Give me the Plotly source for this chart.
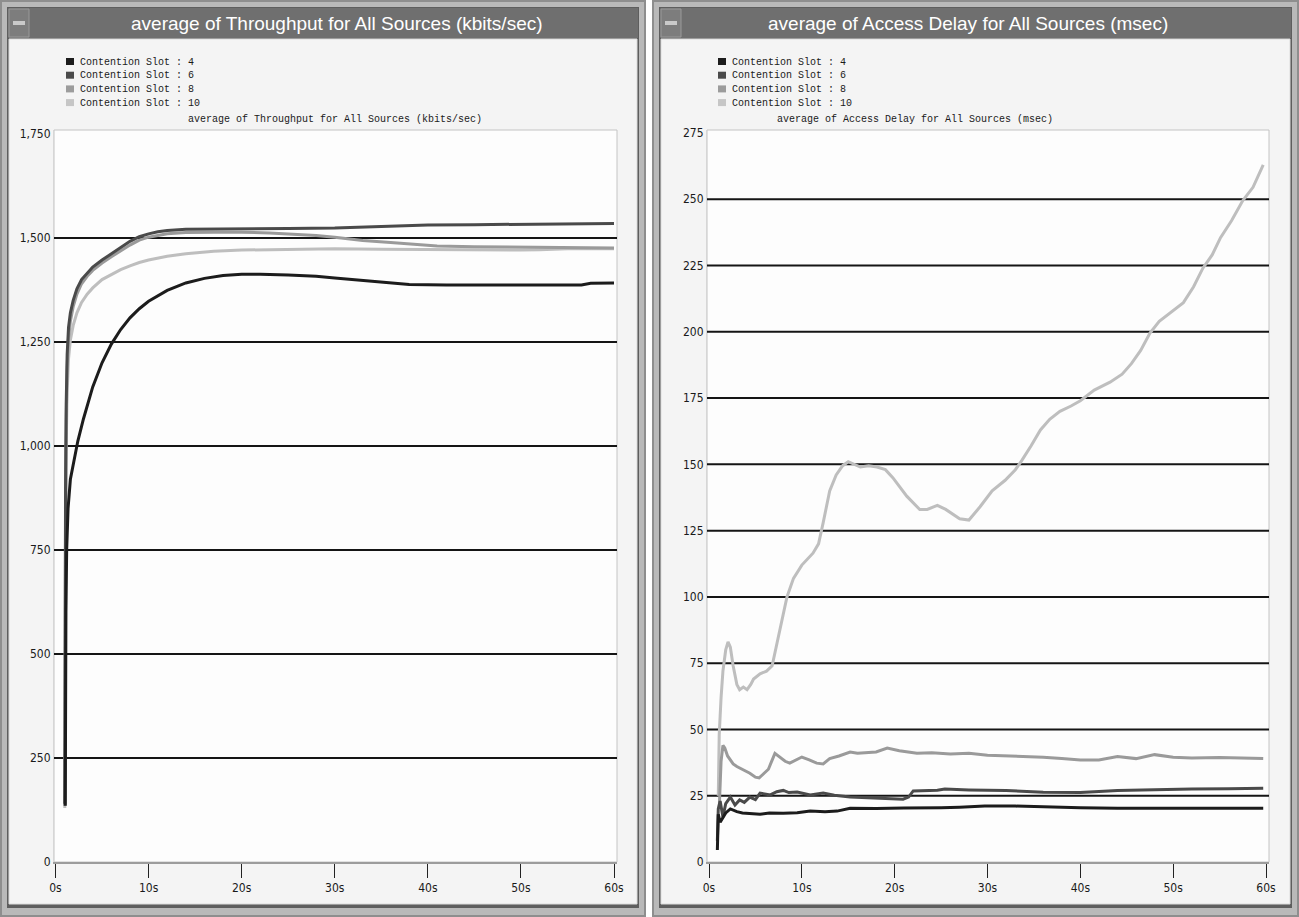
import plotly.graph_objects as go

W, H = 1299, 917

# ---- data -------------------------------------------------------------
SERIES_NAMES = ["Contention Slot : 4", "Contention Slot : 6",
                "Contention Slot : 8", "Contention Slot : 10"]
SERIES_COLORS = ["#1c1c1c", "#4a4a4a", "#9a9a9a", "#bebebe"]
LEGEND_COLORS = ["#1c1c1c", "#4a4a4a", "#9c9c9c", "#c6c6c6"]

# Throughput (kbits/sec) vs time (s)
THR_T4 = [1.05, 1.08, 1.12, 1.2, 1.35, 1.6, 2.0, 2.4, 3.0, 3.5, 4.0, 5.0, 6.0, 7.0,
          8.0, 9.0, 10, 12, 14, 16, 18, 20, 22, 25, 28, 30, 33, 36, 38, 42, 46, 50,
          54, 56.5, 57.5, 60]
THR_V4 = [135, 400, 600, 750, 850, 920, 965, 1012, 1065, 1105, 1142, 1200, 1245, 1280,
          1308, 1330, 1348, 1374, 1392, 1403, 1410, 1413, 1413, 1411, 1408, 1404, 1398,
          1392, 1388, 1387, 1387, 1387, 1387, 1387, 1391, 1392]

THR_T6 = [1.0, 1.03, 1.08, 1.15, 1.25, 1.4, 1.6, 1.9, 2.3, 2.8, 3.4, 4.0, 5.0, 6.0,
          7.0, 8.0, 9.0, 10, 11, 12, 14, 17, 20, 25, 30, 35, 40, 45, 50, 55, 60]
THR_V6 = [140, 600, 900, 1100, 1220, 1285, 1320, 1350, 1378, 1400, 1416, 1430, 1447,
          1462, 1478, 1492, 1503, 1510, 1515, 1518, 1521, 1522, 1522, 1523, 1524, 1528,
          1531, 1532, 1533, 1535, 1535]

THR_T8 = [1.0, 1.03, 1.08, 1.15, 1.25, 1.4, 1.6, 1.9, 2.3, 2.8, 3.4, 4.0, 5.0, 6.0,
          7.0, 8.0, 9.0, 10, 12, 14, 17, 20, 23, 26, 28, 30, 33, 36, 38, 41, 45, 50,
          55, 60]
THR_V8 = [135, 550, 850, 1060, 1190, 1260, 1300, 1335, 1365, 1390, 1408, 1422, 1440,
          1455, 1470, 1483, 1495, 1502, 1510, 1513, 1514, 1514, 1512, 1509, 1506, 1502,
          1494, 1489, 1486, 1481, 1479, 1478, 1477, 1476]

THR_T10 = [1.0, 1.03, 1.08, 1.15, 1.25, 1.4, 1.6, 1.9, 2.3, 2.8, 3.4, 4.0, 5.0, 6.0,
           7.0, 8.0, 9.0, 10, 12, 14, 17, 20, 25, 30, 35, 40, 45, 50, 52, 55, 60]
THR_V10 = [130, 500, 800, 1000, 1130, 1210, 1255, 1290, 1320, 1345, 1365, 1380, 1400,
           1413, 1424, 1433, 1441, 1447, 1456, 1462, 1468, 1471, 1473, 1474, 1473, 1472,
           1471, 1471, 1472, 1474, 1474]

# Access delay (msec) vs time (s)
DLY_T4 = [0.9, 0.95, 1.0, 1.2, 1.5, 1.8, 2.3, 3.0, 3.6, 4.4, 5.5, 6.5, 8.0, 9.5, 10.9,
          12.5, 13.8, 15.2, 18, 21, 24, 25, 27, 29.7, 33, 36.7, 40, 44, 48, 50, 53, 56,
          59.7]
DLY_V4 = [4.5, 12, 18, 15, 17, 18.5, 20, 19, 18.5, 18.4, 18, 18.5, 18.4, 18.6, 19.2,
          19.0, 19.2, 20.3, 20.2, 20.4, 20.3, 20.5, 20.7, 21.1, 21.1, 20.7, 20.5, 20.3,
          20.3, 20.2, 20.3, 20.2, 20.3]

DLY_T6 = [0.9, 1.0, 1.2, 1.5, 1.8, 2.3, 2.8, 3.3, 3.8, 4.4, 5.0, 5.5, 6.6, 7.3, 8.0,
          8.6, 9.5, 10.9, 12.3, 13.5, 15.2, 17, 18.8, 20.9, 21.5, 22, 24.6, 25.4, 28,
          32, 36, 40, 44, 48, 52, 56, 59.7]
DLY_V6 = [8, 20, 23, 17, 22, 24.5, 21.5, 23.4, 22.5, 24.5, 23.5, 26, 25.3, 26.5, 27,
          26.2, 26.4, 25.3, 26, 25.2, 24.5, 24.3, 24.1, 23.7, 24.5, 26.8, 27.1, 27.5,
          27.2, 27, 26.3, 26.2, 27, 27.3, 27.5, 27.6, 27.8]

DLY_T8 = [1.1, 1.3, 1.5, 1.7, 2.0, 2.3, 2.6, 3.0, 3.6, 4.4, 5.0, 5.4, 5.8, 6.4, 7.1,
          7.6, 8.2, 8.7, 9.3, 10.0, 10.8, 11.6, 12.3, 13, 14, 15.2, 16, 17, 18, 19.2,
          20.5, 22.4, 24, 26, 28, 30, 33, 36, 38, 40, 42, 44, 46, 48, 50, 52, 55, 58,
          59.7]
DLY_V8 = [20, 38, 44, 43, 40, 38.5, 37, 36, 35, 33.5, 32, 31.7, 33, 35, 41, 39.5, 38,
          37.3, 38.5, 39.6, 38.5, 37.3, 37, 39, 40, 41.5, 41, 41.2, 41.5, 43, 42, 41,
          41.2, 40.7, 41, 40.3, 40, 39.5, 39, 38.5, 38.5, 39.8, 39, 40.5, 39.5, 39.2,
          39.4, 39, 39]

DLY_T10 = [1.0, 1.1, 1.3, 1.5, 1.8, 2.05, 2.3, 2.6, 3.0, 3.3, 3.7, 4.1, 4.5, 4.8, 5.5,
           6.2, 6.8, 7.3, 7.8, 8.4, 9.1, 10.0, 11.2, 11.8, 12.3, 13.0, 13.7, 14.4, 15.0,
           16.3, 17.2, 18.1, 19.0, 19.8, 21.3, 22.7, 23.5, 24.6, 25.5, 27.0, 28.0, 29.2,
           30.5, 31.9, 33.0, 33.7, 34.7, 35.7, 36.7, 37.8, 39.0, 40.0, 41.5, 43.2, 44.5,
           45.5, 46.5, 47.5, 48.5, 50.0, 51.1, 52.2, 53.2, 54.2, 55.1, 56.3, 57.5, 58.6,
           59.7]
DLY_V10 = [25, 48, 62, 72, 80, 83, 81, 74, 67, 65, 66, 65, 67, 69, 71, 72, 74, 82, 90,
           100, 107, 112, 116.5, 120, 128, 140, 146, 149.5, 151, 149, 149.5, 149, 148,
           145, 138, 133, 133, 134.5, 133, 129.5, 129, 134, 140, 144, 148, 151.5, 157,
           163, 167, 170, 172, 174, 178, 181, 184, 188, 193, 199.5, 204, 208, 211, 217,
           224, 229, 235.5, 242, 249.5, 254.5, 263]

X_TICKS = [0, 10, 20, 30, 40, 50, 60]
X_TICK_TEXT = ["0s", "10s", "20s", "30s", "40s", "50s", "60s"]
THR_TICKS = [0, 250, 500, 750, 1000, 1250, 1500, 1750]
DLY_TICKS = [0, 25, 50, 75, 100, 125, 150, 175, 200, 225, 250, 275]

THR_TITLE = "average of Throughput for All Sources (kbits/sec)"
DLY_TITLE = "average of Access Delay for All Sources (msec)"

# ---- layout helpers (pixel -> paper) ---------------------------------
def fx(x):
    return x / W


def fy(y):
    return 1 - y / H


def rect(x0, y0, x1, y1, fill, line=None, lw=0):
    return dict(type="rect", xref="paper", yref="paper", layer="below",
                x0=fx(x0), x1=fx(x1), y0=fy(y1), y1=fy(y0),
                fillcolor=fill, line=dict(color=line or fill, width=lw))


TICK_FONT = dict(family="Liberation Sans Narrow, DejaVu Sans Condensed, Liberation Sans, sans-serif",
                 size=12, color="#1a1a1a")
MONO = "Liberation Mono, DejaVu Sans Mono, monospace"

panels = [
    dict(win=(0, 646), box=(54, 130, 617, 862), x0px=55.5, x60px=614,
         ticks=THR_TICKS, title=THR_TITLE, title_x=337, sub_x=335,
         series=[(THR_T4, THR_V4), (THR_T6, THR_V6), (THR_T8, THR_V8), (THR_T10, THR_V10)],
         fmt=",d", top_px=134),
    dict(win=(652, 1299), box=(707, 130, 1269, 862), x0px=709, x60px=1266,
         ticks=DLY_TICKS, title=DLY_TITLE, title_x=968, sub_x=915,
         series=[(DLY_T4, DLY_V4), (DLY_T6, DLY_V6), (DLY_T8, DLY_V8), (DLY_T10, DLY_V10)],
         fmt="d", top_px=133),
]

fig = go.Figure()
shapes = []
annotations = []

for k, p in enumerate(panels):
    wl, wr = p["win"]
    L, T, R, B = p["box"]
    # window frame, body and title bar
    shapes.append(rect(wl, 0, wr, H, "#8e8e8e"))
    shapes.append(rect(wl + 2, 2, wr - 2, H - 2, "#b9b9b9"))
    shapes.append(rect(wl + 7, 7, wr - 7, H - 9, "#5e5e5e"))
    shapes.append(rect(wl + 9, 39, wr - 9, H - 13, "#f4f4f4", "#dcdcdc", 1))
    shapes.append(rect(wl + 8, 8, wr - 8, 38, "#6f6f6f"))
    shapes.append(rect(wl + 9, 9, wl + 29, 37, "#7d7d7d", "#9a9a9a", 1))
    shapes.append(rect(wl + 13, 21, wl + 25, 25, "#c9c9c9"))
    # plot area
    shapes.append(rect(L, T, R, B, "#fdfdfd", "#c4c4c4", 1))

    annotations.append(dict(text=p["title"], xref="paper", yref="paper",
                            x=fx(p["title_x"]), y=fy(23), showarrow=False,
                            xanchor="center", yanchor="middle",
                            font=dict(family="Liberation Sans, Arial, sans-serif",
                                      size=19, color="#ffffff")))
    annotations.append(dict(text=p["title"], xref="paper", yref="paper",
                            x=fx(p["sub_x"]), y=fy(120), showarrow=False,
                            xanchor="center", yanchor="middle",
                            font=dict(family=MONO, size=10, color="#1a1a1a")))

    # legend
    for i, name in enumerate(SERIES_NAMES):
        ry = 62 + i * 13.7
        shapes.append(rect(wl + 66, ry - 4, wl + 74, ry + 3, LEGEND_COLORS[i]))
        annotations.append(dict(text=name, xref="paper", yref="paper",
                                x=fx(wl + 78), y=fy(ry), showarrow=False,
                                xanchor="left", yanchor="middle",
                                font=dict(family=MONO, size=10, color="#1a1a1a")))

    xa = "x" if k == 0 else "x2"
    ya = "y" if k == 0 else "y2"
    pps = (p["x60px"] - p["x0px"]) / 60.0
    xr = [-(p["x0px"] - L) / pps, 60 + (R - p["x60px"]) / pps]
    top_val = p["ticks"][-1]
    yr = [0, top_val * (B - T) / (B - p["top_px"])]

    axis_x = dict(domain=[fx(L), fx(R)], range=xr, tickmode="array",
                  tickvals=X_TICKS, ticktext=X_TICK_TEXT, automargin=False,
                  ticks="outside", ticklen=14, tickwidth=1, tickcolor="#222",
                  showline=True, linecolor="#9c9c9c", linewidth=2, showgrid=False,
                  zeroline=False, tickfont=TICK_FONT, anchor=ya, fixedrange=True)
    axis_y = dict(domain=[fy(B), fy(T)], range=yr, tickmode="array",
                  tickvals=p["ticks"], tickformat=p["fmt"], ticks="", showline=True,
                  linecolor="#d6d6d6", linewidth=1, showgrid=False, zeroline=False,
                  automargin=False, tickfont=TICK_FONT, anchor=xa, fixedrange=True)
    if k == 0:
        fig.update_layout(xaxis=axis_x, yaxis=axis_y)
    else:
        fig.update_layout(xaxis2=axis_x, yaxis2=axis_y)

    # horizontal grid lines at inner ticks
    for v in p["ticks"][1:-1]:
        shapes.append(dict(type="line", xref=f"{xa} domain", yref=ya, layer="below",
                           x0=0, x1=1, y0=v, y1=v, line=dict(color="#151515", width=2)))

    # series, lightest first so darker lines sit on top
    for i in reversed(range(4)):
        t, v = p["series"][i]
        fig.add_trace(go.Scatter(x=t, y=v, mode="lines", name=SERIES_NAMES[i],
                                 xaxis=xa, yaxis=ya, showlegend=False,
                                 line=dict(color=SERIES_COLORS[i], width=3)))

fig.update_layout(width=W, height=H, margin=dict(l=0, r=0, t=0, b=0, pad=0, autoexpand=False),
                  paper_bgcolor="#ffffff", plot_bgcolor="rgba(0,0,0,0)",
                  shapes=shapes, annotations=annotations, showlegend=False)

fig.write_html("out.html", config={"displayModeBar": False})
